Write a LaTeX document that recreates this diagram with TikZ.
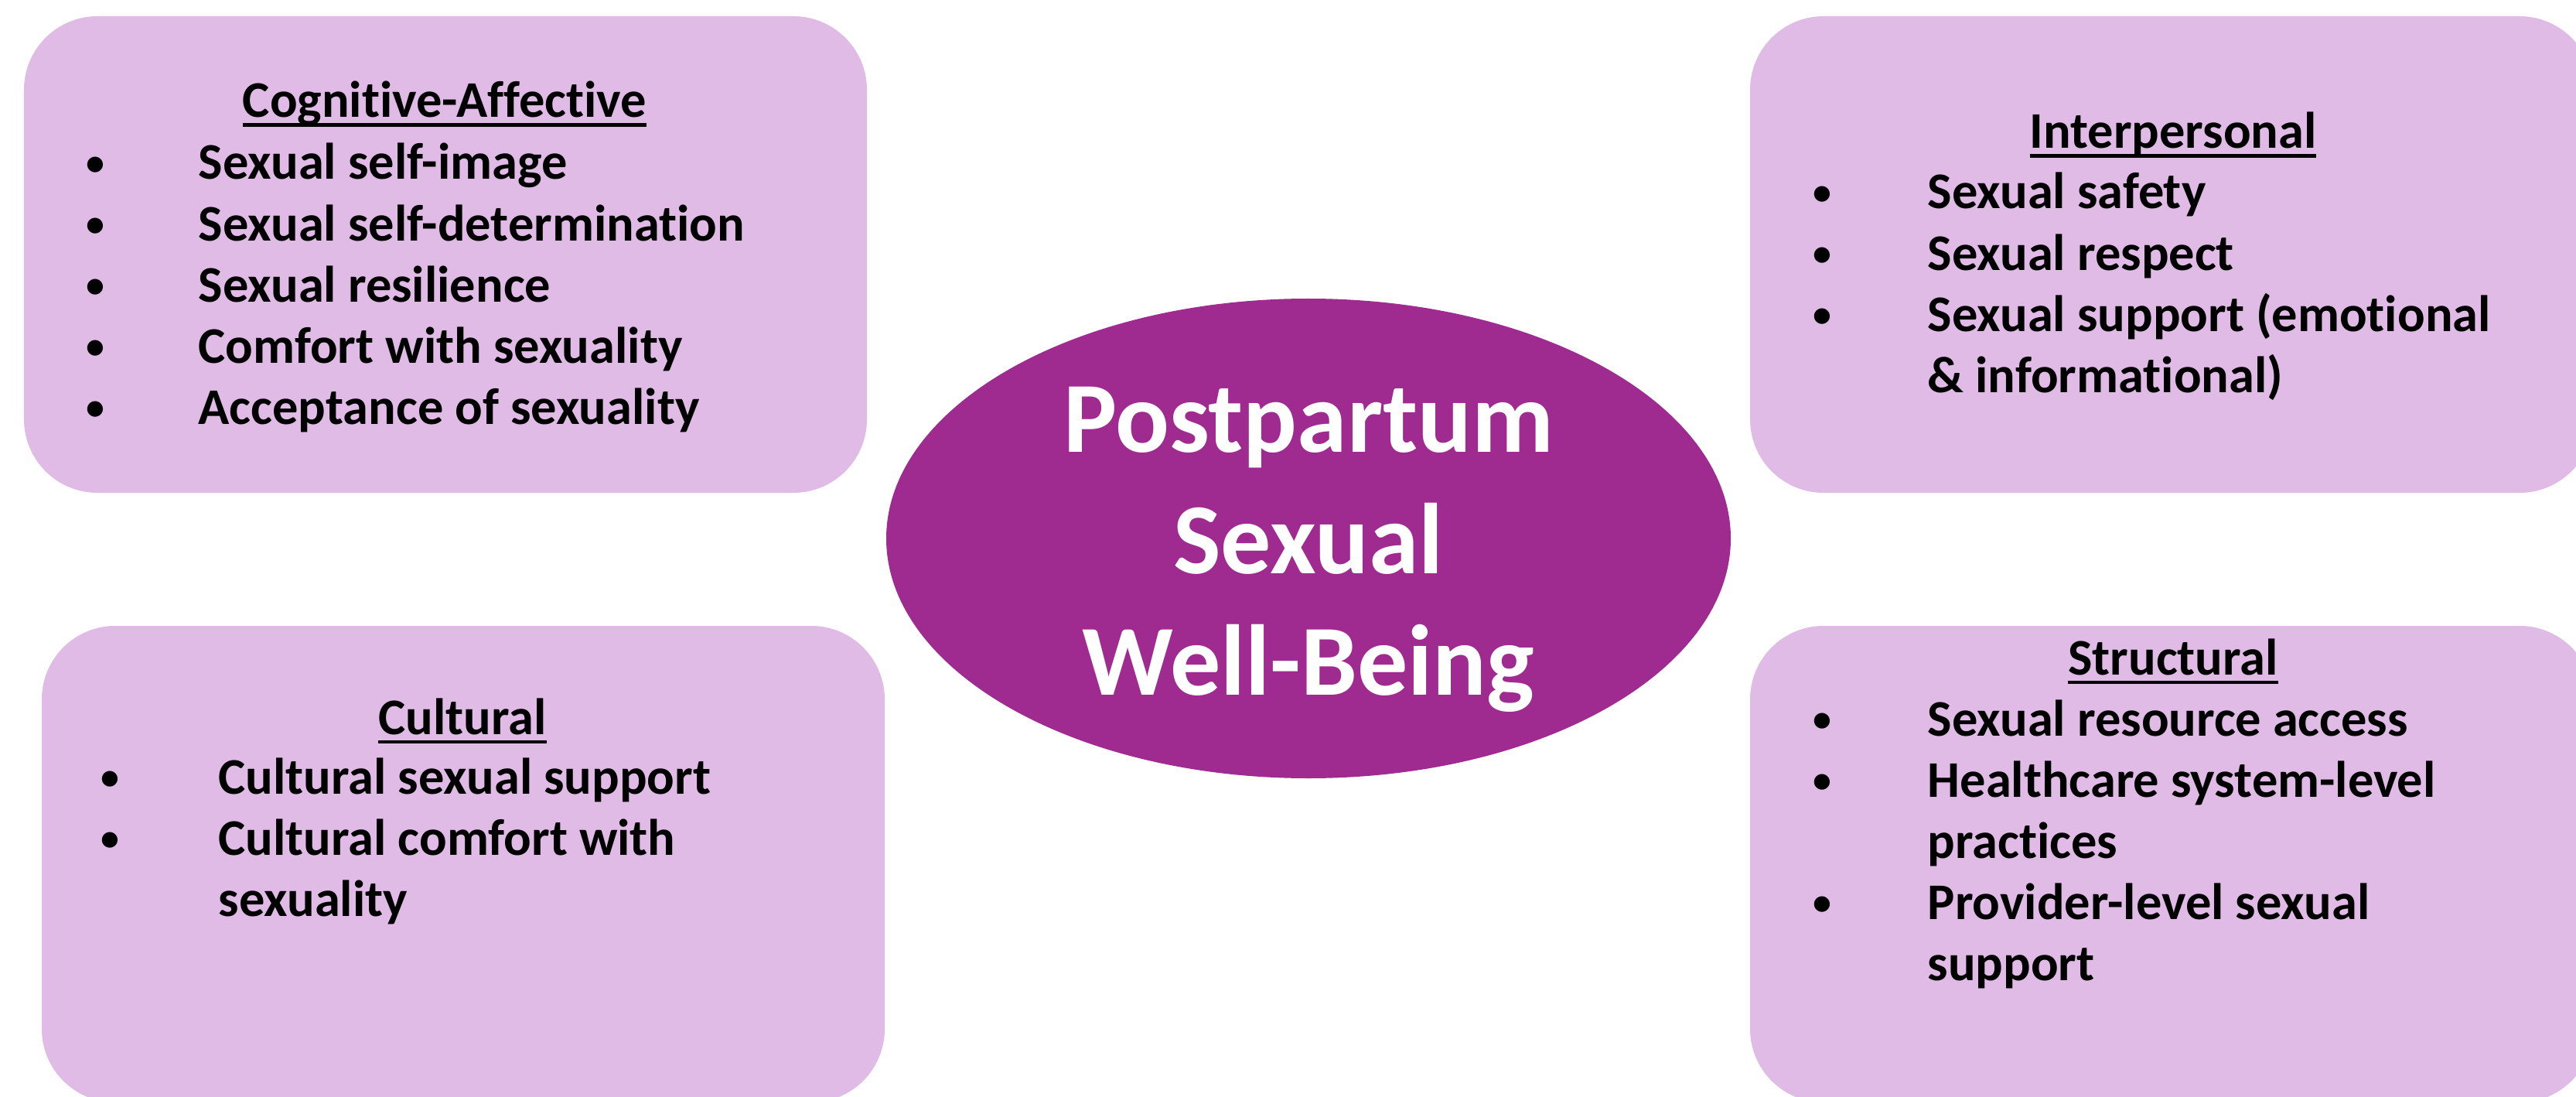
\documentclass[tikz,border=0pt]{standalone}
\usepackage{fontspec}
\setmainfont{Carlito}[Ligatures=NoCommon]
\usetikzlibrary{shapes.geometric}

\definecolor{boxfill}{HTML}{DFBBE6}
\definecolor{hubfill}{HTML}{A02B90}

\newsavebox{\ulbox}
\newcommand{\ulined}[1]{\sbox{\ulbox}{#1}\rlap{\rule[-0.12cm]{\wd\ulbox}{0.045cm}}\usebox{\ulbox}}
\newcommand{\itemfont}{\bfseries\fontsize{18.9}{22.5}\selectfont}
\newcommand{\blt}{\raisebox{0.09em}{\scalebox{0.72}{\textbullet}}}

\begin{document}
\begin{tikzpicture}

      \clip (0,0) rectangle (33.31,-14.18);

      \begin{scope}[every node/.style={rectangle, rounded corners=0.95cm, fill=boxfill,
          minimum width=10.9cm, minimum height=6.16cm, inner sep=0}]
        \node (cog)    at (5.76,-3.29)  {};
        \node (inter)  at (28.08,-3.29) {};
        \node (cult)   at (5.99,-11.17) {};
        \node (struct) at (28.08,-11.17) {};
      \end{scope}

      \node[ellipse, fill=hubfill, minimum width=10.92cm, minimum height=6.2cm, inner sep=0]
        (hub) at (16.92,-6.96) {};
      \node[text=white, align=center, inner sep=0, font=\bfseries\fontsize{37}{44.7}\selectfont]
        (hubtext) at ([yshift=-0.14cm]hub.center) {Postpartum\\Sexual\\Well-Being};

      \begin{scope}[every node/.style={inner sep=0, font=\itemfont}]
        \node[anchor=base] (cogT)    at (5.75,-1.52)  {\ulined{Cognitive-Affective}};
        \node[anchor=base] (interT)  at (28.10,-1.92) {\ulined{Interpersonal}};
        \node[anchor=base] (cultT)   at (5.98,-9.49)  {\ulined{Cultural}};
        \node[anchor=base] (structT) at (28.10,-8.72) {\ulined{Structural}};

        \node[anchor=base west] (cogL) at (1.11,-2.32) {%
          \begin{tabular}[t]{@{}p{1.45cm}@{}l@{}}
            \blt & Sexual self-image\\
            \blt & Sexual self-determination\\
            \blt & Sexual resilience\\
            \blt & Comfort with sexuality\\
            \blt & Acceptance of sexuality
          \end{tabular}};
        \node[anchor=base west] (interL) at (23.44,-2.70) {%
          \begin{tabular}[t]{@{}p{1.48cm}@{}l@{}}
            \blt & Sexual safety\\
            \blt & Sexual respect\\
            \blt & Sexual support (emotional\\
                 & \& informational)
          \end{tabular}};
        \node[anchor=base west] (cultL) at (1.30,-10.26) {%
          \begin{tabular}[t]{@{}p{1.52cm}@{}l@{}}
            \blt & Cultural sexual support\\
            \blt & Cultural comfort with\\
                 & sexuality
          \end{tabular}};
        \node[anchor=base west] (structL) at (23.44,-9.51) {%
          \begin{tabular}[t]{@{}p{1.48cm}@{}l@{}}
            \blt & Sexual resource access\\
            \blt & Healthcare system-level\\
                 & practices\\
            \blt & Provider-level sexual\\
                 & support
          \end{tabular}};
      \end{scope}

    \end{tikzpicture}
\end{document}
